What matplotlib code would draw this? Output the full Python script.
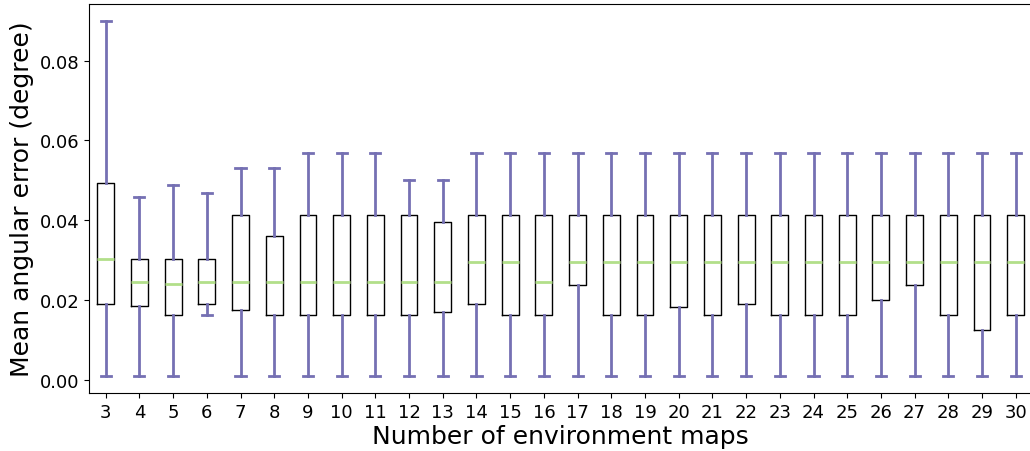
import matplotlib
matplotlib.use("Agg")
import matplotlib.pyplot as plt

maps = list(range(3, 31))
whislo = [0.001, 0.001, 0.001, 0.0162, 0.001, 0.001, 0.001, 0.001, 0.001, 0.001,
          0.001, 0.001, 0.001, 0.001, 0.001, 0.001, 0.001, 0.001, 0.001, 0.001,
          0.001, 0.001, 0.001, 0.001, 0.001, 0.001, 0.001, 0.001]
q1 = [0.019, 0.0184, 0.0162, 0.019, 0.0175, 0.0162, 0.0162, 0.0162, 0.0162, 0.0162,
      0.0169, 0.019, 0.0162, 0.0162, 0.0238, 0.0162, 0.0162, 0.0183, 0.0162, 0.019,
      0.0162, 0.0162, 0.0162, 0.0199, 0.0238, 0.0162, 0.0124, 0.0162]
med = [0.0302, 0.0244, 0.0240, 0.0244, 0.0244, 0.0244, 0.0244, 0.0244, 0.0244, 0.0244,
       0.0244, 0.0296, 0.0296, 0.0244, 0.0296, 0.0296, 0.0296, 0.0296, 0.0296, 0.0296,
       0.0296, 0.0296, 0.0296, 0.0296, 0.0296, 0.0296, 0.0296, 0.0296]
q3 = [0.0493, 0.0302, 0.0302, 0.0302, 0.0414, 0.0361, 0.0414, 0.0414, 0.0414, 0.0414,
      0.0396, 0.0414, 0.0414, 0.0414, 0.0414, 0.0414, 0.0414, 0.0414, 0.0414, 0.0414,
      0.0414, 0.0414, 0.0414, 0.0414, 0.0414, 0.0414, 0.0414, 0.0414]
whishi = [0.0899, 0.0459, 0.0488, 0.0468, 0.0531, 0.0531, 0.0568, 0.0568, 0.0568, 0.0500,
          0.0500, 0.0568, 0.0568, 0.0568, 0.0568, 0.0568, 0.0568, 0.0568, 0.0568, 0.0568,
          0.0568, 0.0568, 0.0568, 0.0568, 0.0568, 0.0568, 0.0568, 0.0568]

stats = []
for i, m in enumerate(maps):
    stats.append(dict(label=str(m), whislo=whislo[i], q1=q1[i], med=med[i],
                      q3=q3[i], whishi=whishi[i], fliers=[]))

purple = "#7570b3"
green = "#b2df8a"

fig = plt.figure(figsize=(10.30, 4.52), dpi=100)
ax = fig.add_axes([0.0863, 0.1277, 0.9162, 0.862])
ax.bxp(stats, showfliers=False,
       boxprops=dict(color="black", linewidth=1.0),
       whiskerprops=dict(color=purple, linewidth=2.0),
       capprops=dict(color=purple, linewidth=2.0),
       medianprops=dict(color=green, linewidth=2.0),
       capwidths=0.3)
ax.set_xlabel("Number of environment maps", fontsize=18, labelpad=2)
ax.set_ylabel("Mean angular error (degree)", fontsize=18)
ax.tick_params(labelsize=13)
ax.set_yticks([0.0, 0.02, 0.04, 0.06, 0.08])
fig.savefig("out.png", dpi=100)
